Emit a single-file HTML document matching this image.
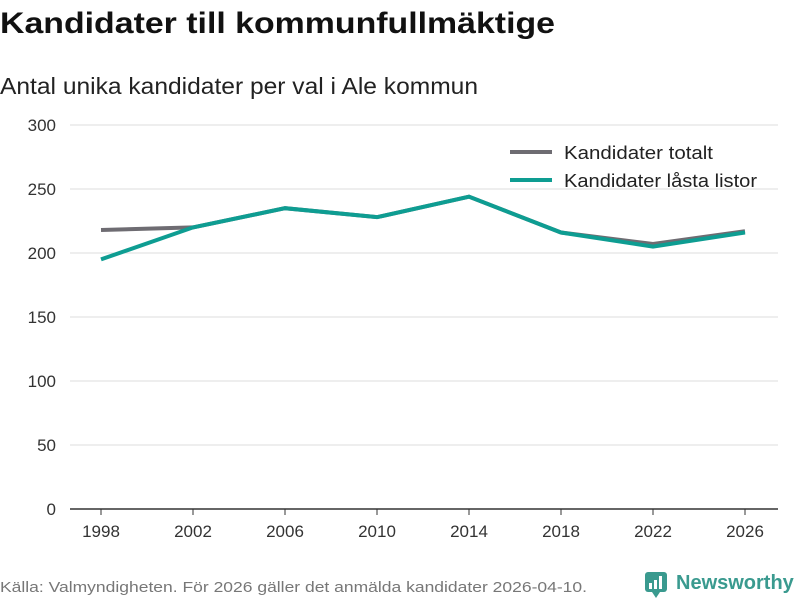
<!DOCTYPE html>
<html><head><meta charset="utf-8"><style>
body{margin:0;background:#fff;width:800px;height:600px;overflow:hidden;font-family:"Liberation Sans","DejaVu Sans",sans-serif}
text{font-family:"Liberation Sans","DejaVu Sans",sans-serif}
</style></head><body>
<svg id="chart" width="800" height="600" xmlns="http://www.w3.org/2000/svg">
<text x="0" y="33" font-size="30" font-weight="bold" fill="#111" textLength="555" lengthAdjust="spacingAndGlyphs">Kandidater till kommunfullmäktige</text>
<text x="0" y="94" font-size="23" fill="#222" textLength="478" lengthAdjust="spacingAndGlyphs">Antal unika kandidater per val i Ale kommun</text>
<g id="grid"></g><g id="xaxis"></g><g id="series"></g>
<g>
<line x1="510" y1="152" x2="552" y2="152" stroke="#6e6c72" stroke-width="4"/>
<text x="564" y="159" font-size="18" fill="#222" textLength="149" lengthAdjust="spacingAndGlyphs">Kandidater totalt</text>
<line x1="510" y1="180" x2="552" y2="180" stroke="#0e9d92" stroke-width="4"/>
<text x="564" y="187" font-size="18" fill="#222" textLength="193" lengthAdjust="spacingAndGlyphs">Kandidater låsta listor</text>
</g>
<text x="0" y="592" font-size="15" fill="#777" textLength="587" lengthAdjust="spacingAndGlyphs">Källa: Valmyndigheten. För 2026 gäller det anmälda kandidater 2026-04-10.</text>
<g>
<rect x="645" y="572" width="22" height="20" rx="3" fill="#3a9a8f"/>
<polygon points="652,592 660,592 656,598" fill="#3a9a8f"/>
<rect x="649" y="583" width="3" height="6" fill="#fff"/><rect x="654" y="580" width="3" height="9" fill="#fff"/><rect x="659" y="576" width="3" height="13" fill="#fff"/>
<text x="676" y="589" font-size="20" font-weight="bold" fill="#3a9a8f">Newsworthy</text>
</g>
</svg>
<script>
const years=[1998,2002,2006,2010,2014,2018,2022,2026];
const totalt=[218,220,235,228,244,216,207,217];
const lasta=[195,220,235,228,244,216,205,216];
const yTicks=[0,50,100,150,200,250,300];
const NS="http://www.w3.org/2000/svg";
const x=v=>101+(v-1998)*(644/28);
const y=v=>509-v*1.28;
const grid=document.getElementById('grid');
yTicks.forEach(t=>{
 const l=document.createElementNS(NS,'line');
 l.setAttribute('x1',70);l.setAttribute('x2',778);l.setAttribute('y1',y(t));l.setAttribute('y2',y(t));
 l.setAttribute('stroke',t===0?'#333':'#ddd');l.setAttribute('stroke-width',t===0?1.5:1);
 
 
 grid.appendChild(l);
 const tx=document.createElementNS(NS,'text');
 tx.setAttribute('x',56);tx.setAttribute('y',y(t)+6);tx.setAttribute('text-anchor','end');
 tx.setAttribute('font-size','17');tx.setAttribute('fill','#333');tx.textContent=t;
 
 
 grid.appendChild(tx);
});
const xa=document.getElementById('xaxis');
years.forEach(yr=>{
 const l=document.createElementNS(NS,'line');
 l.setAttribute('x1',x(yr));l.setAttribute('x2',x(yr));l.setAttribute('y1',509);l.setAttribute('y2',515);
 l.setAttribute('stroke','#333');
 
 
 xa.appendChild(l);
 const tx=document.createElementNS(NS,'text');
 tx.setAttribute('x',x(yr));tx.setAttribute('y',537);tx.setAttribute('text-anchor','middle');
 tx.setAttribute('font-size','17');tx.setAttribute('fill','#333');tx.textContent=yr;
 
 
 xa.appendChild(tx);
});
const s=document.getElementById('series');
[[totalt,'#6e6c72','line-kandidater-totalt'],[lasta,'#0e9d92','line-kandidater-lasta-listor']].forEach(([d,c,n])=>{
 const p=document.createElementNS(NS,'path');
 p.setAttribute('d',d.map((v,i)=>(i?'L':'M')+x(years[i])+','+y(v)).join(''));
 p.setAttribute('fill','none');p.setAttribute('stroke',c);p.setAttribute('stroke-width',4);
 
 
 s.appendChild(p);
});
</script>
</body></html>
